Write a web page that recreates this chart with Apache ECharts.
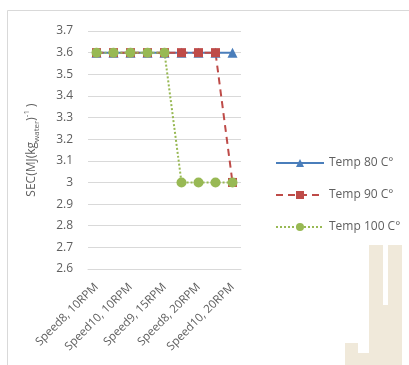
<!DOCTYPE html>
<html>
<head>
<meta charset="utf-8">
<script src="https://cdn.jsdelivr.net/npm/echarts@6/dist/echarts.min.js"></script>
<style>
  html, body { margin: 0; padding: 0; background: #ffffff; }
  #chart { width: 409px; height: 365px; }
</style>
</head>
<body>
<div id="chart"></div>
<script>
// Operating conditions (screw speed, rotation speed)
const categories = [
  'Speed8, 10RPM', 'Speed9, 10RPM', 'Speed10, 10RPM',
  'Speed8, 15RPM', 'Speed9, 15RPM', 'Speed10, 15RPM',
  'Speed8, 20RPM', 'Speed9, 20RPM', 'Speed10, 20RPM'
];

// Specific energy consumption, MJ per kg of water removed
const temp80 = [3.6, 3.6, 3.6, 3.6, 3.6, 3.6, 3.6, 3.6, 3.6];
const temp90 = [3.6, 3.6, 3.6, 3.6, 3.6, 3.6, 3.6, 3.6, 3.0];
const temp100 = [3.6, 3.6, 3.6, 3.6, 3.6, 3.0, 3.0, 3.0, 3.0];

const seriesNames = ['Temp 80 C°', 'Temp 90 C°', 'Temp 100 C°'];

const textColor = '#5f5f5f';
const gridColor = '#d9d9d9';
const font = '"Open Sans", "Noto Sans", sans-serif';

const chart = echarts.init(document.getElementById('chart'), null, { renderer: 'canvas' });

chart.setOption({
  animation: false,
  backgroundColor: '#ffffff',
  textStyle: { fontFamily: font },
  grid: { left: 88, right: 168, top: 31, bottom: 96 },
  legend: {
    orient: 'vertical',
    left: 270,
    top: 152,
    itemWidth: 48,
    itemHeight: 10,
    itemGap: 20,
    textStyle: { color: textColor, fontSize: 12, fontFamily: font },
    data: seriesNames
  },
  xAxis: {
    type: 'category',
    data: categories,
    boundaryGap: true,
    axisLine: { show: true, lineStyle: { color: gridColor, width: 1 } },
    axisTick: { show: false },
    axisLabel: {
      interval: 1,
      rotate: 45,
      color: textColor,
      fontSize: 11.5,
      fontFamily: font,
      margin: 16
    },
    splitLine: { show: false }
  },
  yAxis: {
    type: 'value',
    min: 2.6,
    max: 3.7,
    interval: 0.1,
    axisLine: { show: false },
    axisTick: { show: false },
    axisLabel: {
      color: textColor,
      fontSize: 12,
      fontFamily: font,
      margin: 15,
      formatter: v => String(Math.round(v * 10) / 10)
    },
    splitLine: { lineStyle: { color: gridColor, width: 1 } },
    name: '{m|SEC(MJ(kg}{sub|water}{m|)}{sup|-1}{m| )}',
    nameLocation: 'middle',
    nameRotate: 90,
    nameGap: 47,
    nameTextStyle: {
      color: textColor,
      fontFamily: font,
      rich: {
        m: { fontSize: 12, color: textColor, fontFamily: font, lineHeight: 18, verticalAlign: 'middle' },
        sub: { fontSize: 8, color: textColor, fontFamily: font, lineHeight: 18, verticalAlign: 'bottom' },
        sup: { fontSize: 8, color: textColor, fontFamily: font, lineHeight: 18, verticalAlign: 'top' }
      }
    }
  },
  series: [
    {
      name: seriesNames[0],
      type: 'line',
      data: temp80,
      symbol: 'triangle',
      symbolSize: 10,
      color: '#4a7ebb',
      lineStyle: { color: '#4a7ebb', width: 2 },
      itemStyle: { color: '#4a7ebb' }
    },
    {
      name: seriesNames[1],
      type: 'line',
      data: temp90,
      symbol: 'rect',
      symbolSize: 9,
      color: '#be4b48',
      lineStyle: { color: '#be4b48', width: 2, type: [7, 5] },
      itemStyle: { color: '#be4b48' }
    },
    {
      name: seriesNames[2],
      type: 'line',
      data: temp100,
      symbol: 'circle',
      symbolSize: 10,
      color: '#98b954',
      lineStyle: { color: '#98b954', width: 2, type: [2, 2] },
      itemStyle: { color: '#98b954' }
    }
  ],
  graphic: [
    // chart area frame
    {
      type: 'rect',
      shape: { x: 7.5, y: 10.5, width: 420, height: 400 },
      style: { fill: 'none', stroke: gridColor, lineWidth: 1 },
      silent: true,
      z: -10
    },
    // faint monogram in the lower right corner
    {
      type: 'group',
      silent: true,
      z: -5,
      children: [
        { type: 'rect', shape: { x: 369, y: 245, width: 14, height: 113 }, style: { fill: '#f0e9da' } },
        { type: 'rect', shape: { x: 388, y: 245, width: 14, height: 120 }, style: { fill: '#f0e9da' } },
        { type: 'rect', shape: { x: 383, y: 305, width: 5, height: 60 }, style: { fill: '#f0e9da' } },
        { type: 'rect', shape: { x: 345, y: 343, width: 13, height: 22 }, style: { fill: '#f0e9da' } },
        { type: 'rect', shape: { x: 355, y: 353, width: 28, height: 12 }, style: { fill: '#f0e9da' } }
      ]
    }
  ]
});
</script>
</body>
</html>
